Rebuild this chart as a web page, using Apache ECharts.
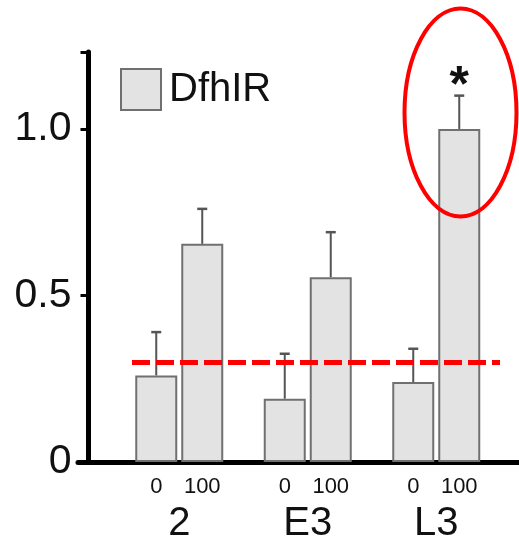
<!DOCTYPE html>
<html>
<head>
<meta charset="utf-8">
<script src="https://cdn.jsdelivr.net/npm/echarts@6/dist/echarts.min.js"></script>
<style>
  html, body { margin: 0; padding: 0; background: #fff; }
  #chart { width: 519px; height: 549px; }
</style>
</head>
<body>
<div id="chart"></div>
<script>
// Groups along the x axis and the two dose levels within each group
const groups = ['2', 'E3', 'L3'];
const doses = ['0', '100'];

// Mean values and upper error (SEM) for each dose, per group
const dose0Values = [0.26, 0.19, 0.24];
const dose0Errors = [0.13, 0.135, 0.10];
const dose100Values = [0.655, 0.555, 1.0];
const dose100Errors = [0.105, 0.135, 0.10];

// Significance marks drawn over the error bars
const dose0Marks = ['', '', ''];
const dose100Marks = ['', '', '*'];

// Reference threshold (dashed red line)
const thresholdValue = 0.30;

// Y axis ticks and their labels
const yTicks = [0, 0.5, 1.0];
const yTickLabels = ['0', '0.5', '1.0'];
const yMax = 1.231;

const legendName = 'DfhIR';

// Styling constants
const FONT = '"Liberation Sans", Arial, sans-serif';
const BAR_W = 42;
const BAR_GAP_PX = 4;
const BAR_FILL = '#e3e3e3';
const BAR_BORDER = '#707070';
const ERR_COLOR = '#555';
const RED = '#ff0000';

const chart = echarts.init(document.getElementById('chart'), null, { renderer: 'canvas' });

const valuesByDose = [dose0Values, dose100Values];
const errorsByDose = [dose0Errors, dose100Errors];
const marksByDose = [dose0Marks, dose100Marks];

// Error bar data: [group index, mean, mean + error, dose index, mark]
const errorData = [];
for (let d = 0; d < doses.length; d++) {
  for (let g = 0; g < groups.length; g++) {
    errorData.push([g, valuesByDose[d][g], valuesByDose[d][g] + errorsByDose[d][g], d, marksByDose[d][g]]);
  }
}

function barSeries(d) {
  return {
    name: legendName,
    type: 'bar',
    xAxisIndex: 1,
    yAxisIndex: 1,
    barWidth: BAR_W,
    barGap: (BAR_GAP_PX / BAR_W * 100) + '%',
    data: valuesByDose[d],
    itemStyle: { color: BAR_FILL, borderColor: BAR_BORDER, borderWidth: 2 },
    label: {
      show: true,
      position: 'bottom',
      distance: 14,
      formatter: () => doses[d],
      fontFamily: FONT,
      fontSize: 22,
      color: '#111'
    },
    emphasis: { disabled: true },
    silent: true,
    z: 2
  };
}

const option = {
  animation: false,
  backgroundColor: '#fff',
  legend: {
    data: [legendName],
    left: 120,
    top: 68,
    icon: 'rect',
    itemWidth: 40,
    itemHeight: 41,
    padding: 0,
    selectedMode: false,
    textStyle: { fontFamily: FONT, fontSize: 40, color: '#111', padding: [0, 0, 0, 3] }
  },
  grid: [
    // frame grid carrying the visible axis lines and y ticks
    { left: 78, right: 0, top: 52, bottom: 87 },
    // plotting grid for the grouped bars
    { left: 115, width: 385.5, top: 52, bottom: 87 }
  ],
  xAxis: [
    {
      type: 'value', gridIndex: 0, min: 0, max: 1,
      axisLine: { show: true, lineStyle: { color: '#000', width: 5 } },
      axisTick: { show: false }, axisLabel: { show: false }, splitLine: { show: false }
    },
    {
      type: 'category', gridIndex: 1, data: groups,
      axisLine: { show: false }, axisTick: { show: false },
      axisLabel: { fontFamily: FONT, fontSize: 40, color: '#111', margin: 42 }
    }
  ],
  yAxis: [
    {
      type: 'value', gridIndex: 0, min: 0, max: yMax, interval: 0.5,
      offset: -10.5,
      axisLine: { show: true, lineStyle: { color: '#000', width: 5 } },
      axisTick: { show: true, length: 8, lineStyle: { color: '#000', width: 3 } },
      axisLabel: {
        margin: 17, fontFamily: FONT, fontSize: 41, color: '#111',
        formatter: v => {
          const i = yTicks.findIndex(t => Math.abs(t - v) < 1e-9);
          return i >= 0 ? yTickLabels[i] : '';
        }
      },
      splitLine: { show: false }
    },
    {
      type: 'value', gridIndex: 1, min: 0, max: yMax, interval: 0.5,
      axisLine: { show: false }, axisTick: { show: false },
      axisLabel: { show: false }, splitLine: { show: false }
    }
  ],
  series: [
    barSeries(0),
    Object.assign(barSeries(1), {
      markLine: {
        silent: true,
        symbol: ['none', 'none'],
        label: { show: false },
        lineStyle: { color: RED, width: 5, type: [18, 6] },
        data: [[{ yAxis: thresholdValue, x: 132 }, { yAxis: thresholdValue, x: 500 }]]
      }
    }),
    {
      type: 'custom',
      xAxisIndex: 1,
      yAxisIndex: 1,
      data: errorData,
      silent: true,
      z: 3,
      renderItem: (params, api) => {
        const g = api.value(0);
        const d = api.value(3);
        const cx = api.coord([g, 0])[0] + (d - 0.5) * (BAR_W + BAR_GAP_PX);
        const yMean = api.coord([g, api.value(1)])[1];
        const yTop = api.coord([g, api.value(2)])[1];
        const mark = errorData[params.dataIndex][4];
        const children = [
          { type: 'line', shape: { x1: cx, y1: yMean, x2: cx, y2: yTop }, style: { stroke: ERR_COLOR, lineWidth: 2 } },
          { type: 'line', shape: { x1: cx - 5, y1: yTop, x2: cx + 5, y2: yTop }, style: { stroke: ERR_COLOR, lineWidth: 2.5 } }
        ];
        if (mark) {
          children.push({
            type: 'text',
            style: {
              text: mark, x: cx, y: yTop + 17,
              align: 'center', verticalAlign: 'bottom',
              font: 'bold 50px ' + FONT, fill: '#111'
            }
          });
        }
        return { type: 'group', children };
      }
    }
  ],
  graphic: [
    {
      type: 'ellipse',
      shape: { cx: 460.5, cy: 112.5, rx: 56, ry: 104 },
      style: { fill: 'none', stroke: RED, lineWidth: 4 },
      silent: true,
      z: 10
    }
  ]
};

chart.setOption(option);
</script>
</body>
</html>
